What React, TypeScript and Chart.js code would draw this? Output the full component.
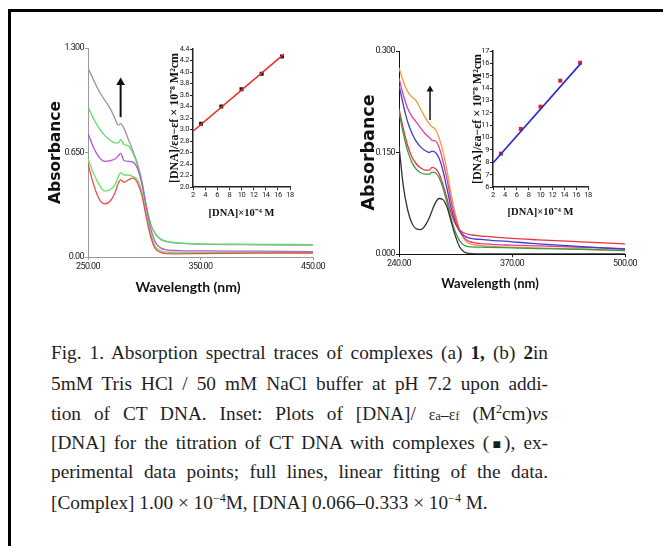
import React, { useEffect, useRef } from "react";
import { Chart, registerables } from "chart.js";

Chart.register(...registerables);

// ---------------- Panel (a) data ----------------
const wavelengthsA = [250, 255, 260, 265, 270, 274, 277, 279, 282, 286, 290, 294, 298, 302, 306, 310, 315, 320, 330, 350, 400, 450];
const aGray = [1.175, 1.1, 1.03, 0.975, 0.92, 0.86, 0.82, 0.83, 0.8, 0.73, 0.66, 0.58, 0.47, 0.31, 0.2, 0.14, 0.108, 0.095, 0.086, 0.08, 0.076, 0.074];
const aGreen1 = [0.936, 0.86, 0.8, 0.755, 0.725, 0.71, 0.71, 0.73, 0.7, 0.69, 0.645, 0.57, 0.46, 0.31, 0.2, 0.145, 0.11, 0.097, 0.088, 0.082, 0.079, 0.077];
const aPurple = [0.77, 0.68, 0.62, 0.595, 0.6, 0.61, 0.63, 0.645, 0.6, 0.595, 0.59, 0.55, 0.45, 0.3, 0.17, 0.09, 0.055, 0.045, 0.04, 0.038, 0.036, 0.034];
const aGreen2 = [0.61, 0.52, 0.45, 0.41, 0.42, 0.45, 0.5, 0.525, 0.51, 0.51, 0.5, 0.48, 0.4, 0.26, 0.14, 0.065, 0.038, 0.031, 0.029, 0.028, 0.028, 0.028];
const aRed = [0.58, 0.45, 0.36, 0.33, 0.35, 0.4, 0.46, 0.48, 0.465, 0.48, 0.49, 0.46, 0.38, 0.24, 0.12, 0.05, 0.027, 0.021, 0.02, 0.021, 0.024, 0.025];
const colorsA = ["#ef4b4b", "#6be06b", "#b155d6", "#5fdc6a", "#a48fa6"];
const xTicksA = [250, 350, 450];
const xTickLabelsA = ["250.00", "350.00", "450.00"];
const yTicksA = [0, 0.65, 1.3];
const yTickLabelsA = ["0.00", "0.650", "1.300"];
const arrowAx = [279, 279];
const arrowAy = [0.87, 1.085];

// ---------------- Panel (b) data ----------------
const wavelengthsB = [240, 245, 250, 255, 260, 265, 270, 275, 278, 282, 286, 290, 295, 300, 305, 310, 315, 320, 340, 370, 400, 450, 500];
const bOrange = [0.275, 0.255, 0.24, 0.232, 0.226, 0.214, 0.202, 0.192, 0.188, 0.184, 0.172, 0.155, 0.125, 0.088, 0.058, 0.035, 0.022, 0.016, 0.012, 0.01, 0.009, 0.007, 0.005];
const bPink = [0.26, 0.235, 0.215, 0.203, 0.195, 0.186, 0.178, 0.172, 0.168, 0.167, 0.158, 0.14, 0.112, 0.078, 0.052, 0.034, 0.024, 0.019, 0.015, 0.013, 0.012, 0.01, 0.008];
const bBlue = [0.25, 0.22, 0.195, 0.178, 0.166, 0.158, 0.153, 0.15, 0.152, 0.15, 0.142, 0.126, 0.098, 0.068, 0.046, 0.033, 0.027, 0.024, 0.021, 0.018, 0.015, 0.011, 0.007];
const bRed = [0.215, 0.185, 0.16, 0.143, 0.133, 0.127, 0.124, 0.124, 0.128, 0.126, 0.119, 0.105, 0.083, 0.06, 0.044, 0.035, 0.031, 0.029, 0.026, 0.023, 0.021, 0.018, 0.015];
const bGreen = [0.21, 0.178, 0.152, 0.135, 0.125, 0.12, 0.118, 0.118, 0.121, 0.12, 0.113, 0.1, 0.077, 0.052, 0.032, 0.019, 0.013, 0.011, 0.01, 0.009, 0.008, 0.007, 0.005];
const bBlack = [0.16, 0.1, 0.065, 0.045, 0.037, 0.036, 0.042, 0.054, 0.064, 0.076, 0.082, 0.081, 0.07, 0.048, 0.026, 0.01, 0.003, 0.001, 0, 0, 0, 0, 0];
const colorsB = ["#333333", "#3a9a45", "#f0303f", "#3b3fc9", "#e0409a", "#f39a3b"];
const xTicksB = [240, 370, 500];
const xTickLabelsB = ["240.00", "370.00", "500.00"];
const yTicksB = [0, 0.15, 0.3];
const yTickLabelsB = ["0.000", "0.150", "0.300"];
const arrowBx = [275.7, 275.7];
const arrowBy = [0.198, 0.243];

// ---------------- Insets ----------------
const dnaConc = [3.33, 6.67, 10, 13.33, 16.67];
const ratioA = [3.1, 3.4, 3.7, 3.97, 4.27];
const fitAx = [2, 17];
const fitAy = [2.97, 4.31];
const ratioB = [8.7, 10.7, 12.5, 14.6, 16.05];
const fitBx = [2, 16.8];
const fitBy = [7.95, 16.0];
const insetXTicks = [2, 4, 6, 8, 10, 12, 14, 16, 18];
const insetYTicksA = [2.0, 2.2, 2.4, 2.6, 2.8, 3.0, 3.2, 3.4, 3.6, 3.8, 4.0, 4.2, 4.4];
const insetYTicksB = [6, 7, 8, 9, 10, 11, 12, 13, 14, 15, 16, 17];

const TICK_FONT = "Roboto, sans-serif";

// condensed tick labels: tighten letter spacing only while the scale draws its labels
function tightLabels(spacing: string) {
  return (s: any) => {
    if (s.__tight) return;
    s.__tight = true;
    const orig = s.drawLabels.bind(s);
    s.drawLabels = (area: any) => {
      const ctx: any = s.ctx;
      const prev = ctx.letterSpacing;
      ctx.letterSpacing = spacing;
      orig(area);
      ctx.letterSpacing = prev || "0px";
    };
  };
}

function spectrumConfig(o: any) {
  const datasets: any[] = o.series.map((s: number[], i: number) => ({
    data: o.wl.map((x: number, j: number) => ({ x, y: s[j] })),
    borderColor: o.colors[i],
    borderWidth: 1.3,
    pointRadius: 0,
    fill: false,
    cubicInterpolationMode: "monotone",
  }));
  datasets.push({
    data: o.arrowX.map((x: number, j: number) => ({ x, y: o.arrowY[j] })),
    borderColor: "#111",
    borderWidth: o.arrowWidth,
    pointRadius: [0, o.arrowHead],
    pointStyle: "triangle",
    pointBackgroundColor: "#111",
    pointBorderColor: "#111",
    pointBorderWidth: 0,
    fill: false,
  });
  return {
    type: "line",
    data: { datasets },
    options: {
      animation: false,
      responsive: false,
      events: [],
      layout: { padding: o.pad },
      plugins: { legend: { display: false }, tooltip: { enabled: false } },
      scales: {
        x: {
          type: "linear",
          min: o.xMin,
          max: o.xMax,
          afterBuildTicks: (s: any) => { s.ticks = o.xTicks.map((v: number) => ({ value: v })); },
          afterFit: (s: any) => { s.height = o.xHeight; },
          afterUpdate: tightLabels("-0.6px"),
          ticks: { autoSkip: false, maxRotation: 0, padding: 1, color: "#222", font: { family: TICK_FONT, size: 9 }, callback: (_v: any, i: number) => o.xLabels[i] },
          grid: { drawOnChartArea: false, drawTicks: true, tickLength: 3, color: o.axisColor },
          border: { color: o.axisColor, width: 1 },
        },
        y: {
          type: "linear",
          min: o.yMin,
          max: o.yMax,
          afterBuildTicks: (s: any) => { s.ticks = o.yTicks.map((v: number) => ({ value: v })); },
          afterFit: (s: any) => { s.width = o.yWidth; },
          afterUpdate: tightLabels("-0.6px"),
          ticks: { autoSkip: false, padding: 1, color: "#222", font: { family: TICK_FONT, size: 9 }, callback: (_v: any, i: number) => o.yLabels[i] },
          grid: { drawOnChartArea: false, drawTicks: true, tickLength: 3, color: o.axisColor },
          border: { color: o.axisColor, width: 1 },
          title: { display: true, text: "Absorbance", color: "#111", font: { family: "'DejaVu Sans', sans-serif", size: o.titleSize, weight: "bold" }, padding: { top: o.titlePad, bottom: 0 } },
        },
      },
    },
  };
}

function insetConfig(o: any) {
  return {
    type: "scatter",
    data: {
      datasets: [
        { type: "line", data: o.fitX.map((x: number, j: number) => ({ x, y: o.fitY[j] })), borderColor: o.lineColor, borderWidth: 1.6, pointRadius: 0, fill: false },
        { type: "scatter", data: dnaConc.map((x, j) => ({ x, y: o.pts[j] })), pointStyle: "rect", pointRadius: 2.8, pointBackgroundColor: o.ptColor, pointBorderColor: o.ptColor, pointBorderWidth: 0 },
      ],
    },
    options: {
      animation: false,
      responsive: false,
      events: [],
      layout: { padding: o.pad },
      plugins: { legend: { display: false }, tooltip: { enabled: false } },
      scales: {
        x: {
          type: "linear",
          min: 2,
          max: 18,
          afterBuildTicks: (s: any) => { s.ticks = insetXTicks.map((v) => ({ value: v })); },
          afterFit: (s: any) => { s.height = o.xHeight; },
          afterUpdate: tightLabels("-0.4px"),
          ticks: { autoSkip: false, maxRotation: 0, padding: 1, color: "#222", font: { family: TICK_FONT, size: 7.5 }, callback: (_v: any, i: number) => String(insetXTicks[i]) },
          grid: { drawOnChartArea: false, drawTicks: true, tickLength: 3, color: "#222" },
          border: { color: "#222", width: 1.5 },
          title: { display: true, text: "[DNA]×10⁻⁴ M", color: "#111", font: { family: "'Liberation Serif', serif", size: 10.5, weight: "bold" }, padding: { top: 0, bottom: o.xTitlePad } },
        },
        y: {
          type: "linear",
          min: o.yTicks[0],
          max: o.yTicks[o.yTicks.length - 1],
          afterBuildTicks: (s: any) => { s.ticks = o.yTicks.map((v: number) => ({ value: v })); },
          afterFit: (s: any) => { s.width = o.yWidth; },
          afterUpdate: tightLabels("-0.4px"),
          ticks: { autoSkip: false, padding: 1, color: "#222", font: { family: TICK_FONT, size: 7.5 }, callback: (_v: any, i: number) => o.yLabels[i] },
          grid: { drawOnChartArea: false, drawTicks: true, tickLength: 3, color: "#222" },
          border: { color: "#222", width: 1.5 },
          title: { display: true, text: "[DNA]/εa−εf × 10⁻⁸ M²cm", color: "#111", font: { family: "'Liberation Serif', serif", size: 12, weight: "bold" }, padding: { top: o.yTitlePad, bottom: 0 } },
        },
      },
    },
  };
}

function ChartCanvas({ left, top, width, height, build }: any) {
  const ref = useRef<HTMLCanvasElement>(null);
  useEffect(() => {
    const chart = new Chart(ref.current as HTMLCanvasElement, build());
    return () => chart.destroy();
  }, []);
  return <canvas ref={ref} width={width} height={height} style={{ position: "absolute", left, top, width, height }} />;
}

const captionBaselines = [359, 390, 420, 449, 478, 509];

function CaptionLine({ i, justify, children }: any) {
  return (
    <div
      style={{
        position: "absolute",
        left: 51,
        top: captionBaselines[i] - 20,
        width: 497,
        height: 28,
        lineHeight: "28px",
        fontFamily: "'Liberation Serif', serif",
        fontSize: 19.3,
        color: "#1e1e1e",
        textAlign: justify ? "justify" : "left",
        textAlignLast: justify ? "justify" : "left",
        whiteSpace: "nowrap",
      } as any}
    >
      {children}
    </div>
  );
}

const sup: any = { fontSize: 12, verticalAlign: "super", lineHeight: 0 };
const nobreak: any = { display: "inline-block" };

export default function App() {
  const buildA = () =>
    spectrumConfig({
      wl: wavelengthsA,
      series: [aRed, aGreen2, aPurple, aGreen1, aGray],
      colors: colorsA,
      xMin: 250, xMax: 450, xTicks: xTicksA, xLabels: xTickLabelsA,
      yMin: 0, yMax: 1.3, yTicks: yTicksA, yLabels: yTickLabelsA,
      arrowX: arrowAx, arrowY: arrowAy, arrowWidth: 2, arrowHead: 5,
      axisColor: "#9a9a9a",
      pad: { left: 0, top: 18, right: 17, bottom: 0 },
      yWidth: 48, xHeight: 48, titleSize: 15.5, titlePad: 7,
    });
  const buildB = () =>
    spectrumConfig({
      wl: wavelengthsB,
      series: [bBlack, bGreen, bRed, bBlue, bPink, bOrange],
      colors: colorsB,
      xMin: 240, xMax: 500, xTicks: xTicksB, xLabels: xTickLabelsB,
      yMin: 0, yMax: 0.3, yTicks: yTicksB, yLabels: yTickLabelsB,
      arrowX: arrowBx, arrowY: arrowBy, arrowWidth: 1.5, arrowHead: 4,
      axisColor: "#111",
      pad: { left: 0, top: 21, right: 25, bottom: 0 },
      yWidth: 59, xHeight: 51, titleSize: 17.5, titlePad: 19,
    });
  const buildInsetA = () =>
    insetConfig({
      fitX: fitAx, fitY: fitAy, pts: ratioA, lineColor: "#e8302c", ptColor: "#111",
      yTicks: insetYTicksA, yLabels: insetYTicksA.map((v) => v.toFixed(1)),
      pad: { left: 0, top: 9, right: 10, bottom: 0 },
      yWidth: 33, xHeight: 38, yTitlePad: 8, xTitlePad: 5.7,
    });
  const buildInsetB = () =>
    insetConfig({
      fitX: fitBx, fitY: fitBy, pts: ratioB, lineColor: "#2a2ad0", ptColor: "#e0202a",
      yTicks: insetYTicksB, yLabels: insetYTicksB.map((v) => String(v)),
      pad: { left: 0, top: 11, right: 12, bottom: 0 },
      yWidth: 43, xHeight: 33, yTitlePad: 20.5, xTitlePad: 1.7,
    });

  const wlTitle = (cx: number, cy: number, size: number): any => ({
    position: "absolute",
    left: cx,
    top: cy - 9,
    transform: "translateX(-50%)",
    lineHeight: "18px",
    whiteSpace: "nowrap",
    fontFamily: "Lato, sans-serif",
    fontWeight: 700,
    fontSize: size,
    color: "#111",
  });

  return (
    <div style={{ position: "absolute", left: 0, top: 0, width: 663, height: 546, overflow: "hidden", background: "#fff" }}>
      <div style={{ position: "absolute", left: 8, top: 9, width: 660, height: 545, borderTop: "3px solid #000", borderLeft: "3px solid #000" }} />
      <ChartCanvas left={40} top={30} width={290} height={275} build={buildA} />
      <ChartCanvas left={160} top={40} width={140} height={185} build={buildInsetA} />
      <ChartCanvas left={340} top={30} width={310} height={275} build={buildB} />
      <ChartCanvas left={450} top={40} width={150} height={180} build={buildInsetB} />
      <div style={wlTitle(188, 287, 14)}>Wavelength (nm)</div>
      <div style={wlTitle(490, 283, 13)}>Wavelength (nm)</div>

      <CaptionLine i={0} justify>
        Fig. 1. Absorption spectral traces of complexes (a) <b>1,</b> (b) <b>2</b>in
      </CaptionLine>
      <CaptionLine i={1} justify>
        5mM Tris HCl / 50 mM NaCl buffer at pH 7.2 upon <span style={nobreak}>addi<span>-</span></span>
      </CaptionLine>
      <CaptionLine i={2} justify>
        tion of CT DNA. Inset: Plots of [DNA]/ <span style={{ fontSize: 16 }}>ε<span style={{ fontSize: 12 }}>a</span>–ε<span style={{ fontSize: 12 }}>f</span></span> (M<span style={sup}>2</span>cm)<i>vs</i>
      </CaptionLine>
      <CaptionLine i={3} justify>
        [DNA] for the titration of CT DNA with complexes (<span style={{ fontSize: 14 }}>■</span>), <span style={nobreak}>ex-</span>
      </CaptionLine>
      <CaptionLine i={4} justify>
        perimental data points; full lines, linear fitting of the data.
      </CaptionLine>
      <CaptionLine i={5} justify={false}>
        [Complex] 1.00 × 10<span style={sup}>−4</span>M, [DNA] 0.066–0.333 × 10<span style={sup}>−4</span> M.
      </CaptionLine>
    </div>
  );
}
